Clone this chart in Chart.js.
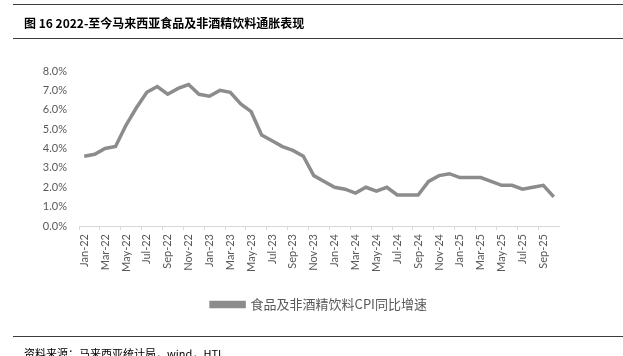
<!DOCTYPE html>
<html>
<head>
<meta charset="utf-8">
<script src="https://cdn.jsdelivr.net/npm/chart.js@4/dist/chart.umd.min.js"></script>
<style>
  html, body { margin: 0; padding: 0; background: #fff; }
  #wrap { position: relative; width: 623px; height: 356px; overflow: hidden; background: #fff; }
  #c { position: absolute; left: 0; top: 0; }
  .rule { position: absolute; left: 13px; right: 0; height: 0; border-top: 1.5px solid #3c3c3c; }
  #title { position: absolute; left: 24px; top: 14px; font: bold 12px "Noto Sans CJK SC", "Noto Sans", sans-serif; color: #000; white-space: nowrap; line-height: 17px; }
  #source { position: absolute; left: 24px; top: 345px; font: 11px "Noto Sans CJK SC", sans-serif; color: #000; white-space: nowrap; line-height: 16px; }
</style>
</head>
<body>
<div id="wrap">
  <canvas id="c" width="623" height="356"></canvas>
  <div class="rule" style="top:4px"></div>
  <div id="title">图 16 2022-至今马来西亚食品及非酒精饮料通胀表现</div>
  <div class="rule" style="top:38px"></div>
  <div class="rule" style="top:336px"></div>
  <div id="source">资料来源：马来西亚统计局，wind，HTI</div>
</div>
<script>
const months = [
  "Jan-22","Feb-22","Mar-22","Apr-22","May-22","Jun-22","Jul-22","Aug-22","Sep-22","Oct-22","Nov-22","Dec-22",
  "Jan-23","Feb-23","Mar-23","Apr-23","May-23","Jun-23","Jul-23","Aug-23","Sep-23","Oct-23","Nov-23","Dec-23",
  "Jan-24","Feb-24","Mar-24","Apr-24","May-24","Jun-24","Jul-24","Aug-24","Sep-24","Oct-24","Nov-24","Dec-24",
  "Jan-25","Feb-25","Mar-25","Apr-25","May-25","Jun-25","Jul-25","Aug-25","Sep-25","Oct-25"
];
const foodCpiYoY = [
  3.6,3.7,4.0,4.1,5.2,6.1,6.9,7.2,6.8,7.1,7.3,6.8,
  6.7,7.0,6.9,6.3,5.9,4.7,4.4,4.1,3.9,3.6,2.6,2.3,
  2.0,1.9,1.7,2.0,1.8,2.0,1.6,1.6,1.6,2.3,2.6,2.7,
  2.5,2.5,2.5,2.3,2.1,2.1,1.9,2.0,2.1,1.5
];
const seriesName = "食品及非酒精饮料CPI同比增速";
const yTicks = [0,1,2,3,4,5,6,7,8];

const tickFont = { family: "Lato, 'Noto Sans', sans-serif", size: 11 };

new Chart(document.getElementById('c'), {
  type: 'line',
  data: {
    labels: months,
    datasets: [{
      label: seriesName,
      data: foodCpiYoY,
      borderColor: '#8c8c8c',
      backgroundColor: '#8c8c8c',
      borderWidth: 3.5,
      pointRadius: 0,
      pointHoverRadius: 0,
      tension: 0,
      fill: false
    }]
  },
  options: {
    responsive: false,
    devicePixelRatio: 1,
    animation: false,
    layout: { padding: { top: 71, left: 0, right: 64, bottom: 35 } },
    plugins: {
      tooltip: { enabled: false },
      legend: {
        position: 'bottom',
        fullSize: false,
        labels: {
          boxWidth: 33,
          boxHeight: 4,
          padding: 10,
          color: '#595959',
          font: { family: "'Noto Sans CJK SC', sans-serif", size: 13 }
        }
      }
    },
    scales: {
      x: {
        type: 'category',
        offset: true,
        grid: {
          offset: true,
          drawOnChartArea: false,
          drawTicks: true,
          tickLength: 4,
          color: (ctx) => (ctx.index % 2 === 0 ? '#d9d9d9' : 'rgba(0,0,0,0)')
        },
        border: { display: true, color: '#d9d9d9', width: 1 },
        ticks: {
          autoSkip: false,
          minRotation: 90,
          maxRotation: 90,
          padding: 4,
          color: '#595959',
          font: tickFont,
          callback: function(v, i) { return i % 2 === 0 ? this.getLabelForValue(v) : ''; }
        },
        afterFit: (s) => { s.height = 62; }
      },
      y: {
        min: yTicks[0],
        max: yTicks[yTicks.length - 1],
        grid: { display: false, drawTicks: false },
        border: { display: false },
        ticks: {
          stepSize: 1,
          padding: 12,
          color: '#595959',
          font: tickFont,
          callback: (v) => v.toFixed(1) + '%'
        },
        afterFit: (s) => { s.width = 79; }
      }
    }
  }
});
</script>
</body>
</html>
